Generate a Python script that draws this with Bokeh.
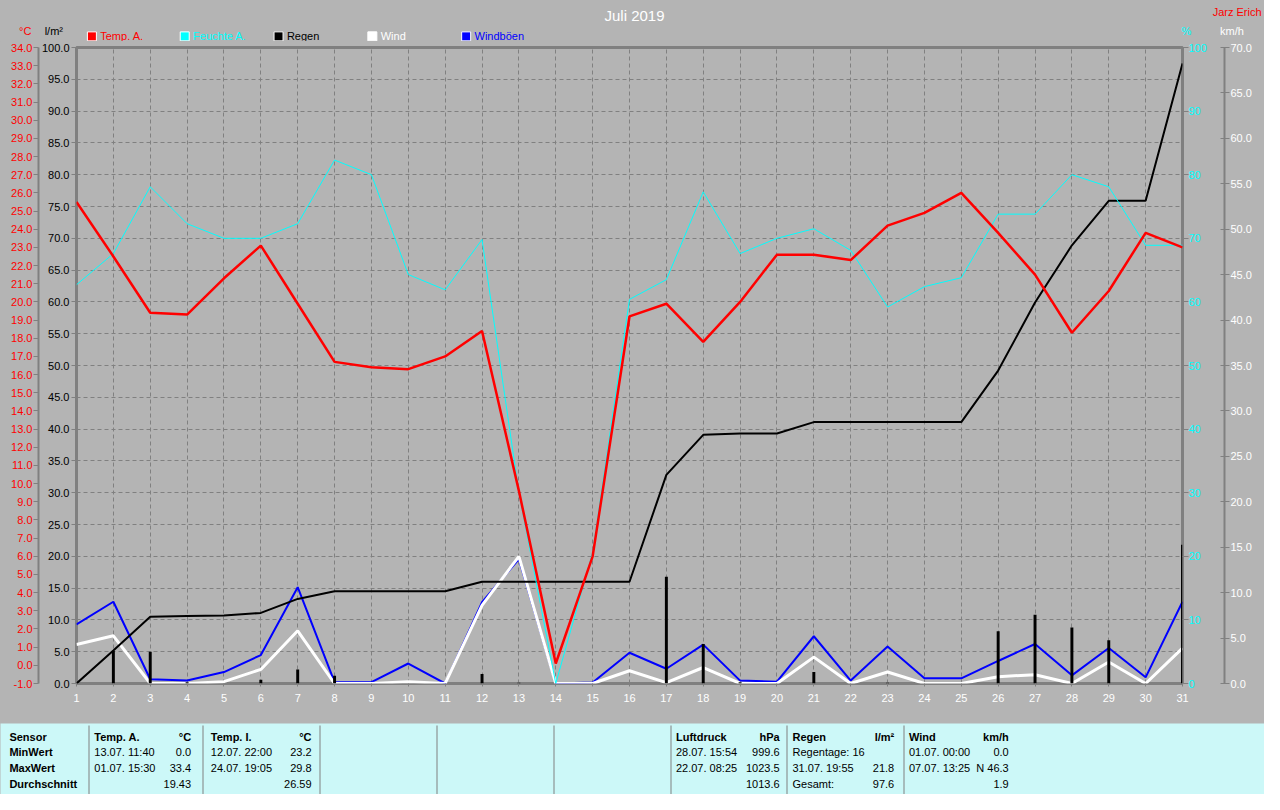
from bokeh.plotting import figure
from bokeh.layouts import column
from bokeh.models import (Range1d, LinearAxis, FixedTicker, NumeralTickFormatter,
                          Label, BoxAnnotation, Grid)
from bokeh.embed import file_html
from bokeh.resources import INLINE

# ---------------- data ----------------
days = list(range(1, 32))
temp_a = [25.5, 22.5, 19.4, 19.3, 21.3, 23.1, 19.9, 16.7, 16.4, 16.3, 17.0, 18.4, 9.6, 0.1,
          6.0, 19.2, 19.9, 17.8, 20.0, 22.6, 22.6, 22.3, 24.2, 24.9, 26.0, 23.8, 21.5, 18.3,
          20.6, 23.8, 23.0]
feuchte_a = [62.7, 67.6, 78.1, 72.3, 70.0, 70.0, 72.3, 82.3, 80.0, 64.3, 61.9, 69.8, 30.0, 0.0,
             20.6, 60.4, 63.5, 77.3, 67.6, 70.0, 71.5, 68.1, 59.2, 62.4, 63.8, 73.8, 73.8, 80.0,
             78.1, 68.9, 68.9]
regen_tag = [0.0, 5.1, 5.0, 0.2, 0.0, 0.6, 2.2, 1.2, 0.0, 0.0, 0.0, 1.5, 0.1, 0.0, 0.0, 0.0,
             16.8, 6.2, 0.2, 0.0, 1.8, 0.0, 0.1, 0.0, 0.0, 8.2, 10.8, 8.8, 6.8, 0.0, 21.8]
regen_summe = [0.0, 5.2, 10.5, 10.6, 10.7, 11.1, 13.3, 14.5, 14.5, 14.5, 14.5, 16.0, 16.0, 16.0,
               16.0, 16.0, 32.8, 39.1, 39.3, 39.3, 41.1, 41.1, 41.1, 41.1, 41.1, 49.2, 59.9,
               68.9, 75.9, 75.9, 97.5]
wind = [4.3, 5.25, 0.0, 0.0, 0.2, 1.55, 5.8, 0.0, 0.0, 0.2, 0.0, 8.6, 14.0, 0.0, 0.0, 1.4, 0.1,
        1.76, 0.0, 0.0, 2.9, 0.0, 1.26, 0.0, 0.0, 0.75, 0.97, 0.0, 2.37, 0.0, 3.9]
windboeen = [6.5, 9.0, 0.47, 0.32, 1.26, 3.13, 10.6, 0.15, 0.15, 2.2, 0.0, 8.95, 13.7, 0.0, 0.1,
             3.38, 1.62, 4.28, 0.32, 0.2, 5.2, 0.32, 4.07, 0.57, 0.57, 2.48, 4.35, 0.9, 3.9,
             0.68, 9.0]

temp_ticks = [float(v) for v in range(-1, 35)]
regen_ticks = [float(v) for v in range(0, 101, 5)]
feuchte_ticks = list(range(0, 101, 10))
wind_ticks = [float(v) for v in range(0, 71, 5)]
grid_y = [float(v) for v in range(5, 100, 5)]

title_text = "Juli 2019"
author_text = "Jarz Erich"
legend_names = ["Temp. A.", "Feuchte A.", "Regen", "Wind", "Windböen"]
legend_colors = ["#FF0000", "#00FFFF", "#000000", "#FFFFFF", "#0000FF"]

sensor_col = ["Sensor", "MinWert", "MaxWert", "Durchschnitt"]
tempa_left = ["Temp. A.", "13.07.  11:40", "01.07.  15:30", ""]
tempa_right = ["°C", "0.0", "33.4", "19.43"]
tempi_left = ["Temp. I.", "12.07.  22:00", "24.07.  19:05", ""]
tempi_right = ["°C", "23.2", "29.8", "26.59"]
luft_left = ["Luftdruck", "28.07.  15:54", "22.07.  08:25", ""]
luft_right = ["hPa", "999.6", "1023.5", "1013.6"]
regen_left = ["Regen", "Regentage: 16", "31.07.  19:55", "Gesamt:"]
regen_right = ["l/m²", "", "21.8", "97.6"]
wind_left = ["Wind", "01.07.  00:00", "07.07.  13:25", ""]
wind_right = ["km/h", "0.0", "N 46.3", "1.9"]

# ---------------- styling / layout ----------------
BG = "#B4B4B4"
GRAY = "#808080"
PANEL = "#CCF8F8"
FONT = "Liberation Sans"
W = 1264
SX, SY = 1264 / 1280.0, 794 / 810.0
H_TOP, H_MAIN, H_BOT = 41, 682, 71


def X(px):
    return px * SX


def Y(py):
    return py * SY


def blank_fig(h, bg):
    f = figure(width=W, height=h, output_backend="svg", toolbar_location=None,
               x_range=Range1d(0, W), y_range=Range1d(h, 0),
               x_axis_location=None, y_axis_location=None, min_border=0,
               frame_align=False,
               background_fill_color=bg, border_fill_color=bg, outline_line_color=None)
    f.grid.visible = False
    return f


def lab(f, y0, text, px, py, color="black", size="11px", align="left", bold=False):
    f.add_layout(Label(x=X(px), y=Y(py) - y0, text=text, text_color=color, text_font=FONT,
                       text_font_size=size, text_align=align, text_baseline="middle",
                       text_font_style="bold" if bold else "normal"))


# ---------------- header ----------------
top = blank_fig(H_TOP, BG)
lab(top, 0, title_text, 642, 15, "white", "15px", "center")
lab(top, 0, author_text, 1277, 12, "#FF0000", "11px", "right")
lab(top, 0, "°C", 25, 31, "#FF0000", "11px", "center")
lab(top, 0, "l/m²", 54, 31, "black", "11px", "center")
lab(top, 0, "%", 1201, 31, "#00FFFF", "11px", "center")
lab(top, 0, "km/h", 1247, 31, "white", "11px", "center")
leg_x = [88, 182, 277, 372, 467]
for name, col, lx in zip(legend_names, legend_colors, leg_x):
    top.add_layout(BoxAnnotation(left=X(lx), right=X(lx) + 9, top=Y(32), bottom=Y(32) + 9,
                                 fill_color=col, fill_alpha=1, line_color="white",
                                 line_alpha=1, line_width=1))
    lab(top, 0, name, lx + 13, 36.5, col, "11px", "left")

# ---------------- main chart ----------------
ML = round(X(77))
MR = W - round(X(1197))
MT = round(Y(48)) - H_TOP
MB = H_TOP + H_MAIN - round(Y(697))

p = figure(width=W, height=H_MAIN, output_backend="svg", toolbar_location=None,
           x_range=Range1d(1, 31), y_range=Range1d(0, 100),
           x_axis_location=None, y_axis_location=None, frame_align=False,
           min_border_left=ML, min_border_right=MR, min_border_top=MT, min_border_bottom=MB,
           background_fill_color=BG, border_fill_color=BG,
           outline_line_color=GRAY, outline_line_width=3)
p.grid.visible = False
p.extra_y_ranges = {"temp": Range1d(-1, 34), "hum": Range1d(0, 100), "wind": Range1d(0, 70)}

p.add_layout(Grid(dimension=0, ticker=FixedTicker(ticks=days[1:-1]), grid_line_color=GRAY,
                  grid_line_dash="4 3", grid_line_width=1))
p.add_layout(Grid(dimension=1, ticker=FixedTicker(ticks=grid_y), grid_line_color=GRAY,
                  grid_line_dash="4 3", grid_line_width=1))


def make_axis(rng, ticks, fmt, color, tick_out, tick_in, standoff, line_color=None, line_width=2):
    return LinearAxis(y_range_name=rng, ticker=FixedTicker(ticks=ticks),
                      formatter=NumeralTickFormatter(format=fmt),
                      axis_line_color=line_color, axis_line_width=line_width,
                      major_tick_out=tick_out, major_tick_in=tick_in,
                      minor_tick_out=0, minor_tick_in=0,
                      major_tick_line_color=GRAY, major_tick_line_width=1,
                      major_label_standoff=standoff,
                      major_label_text_font=FONT, major_label_text_font_size="11px",
                      major_label_text_color=color)


rain_ax = make_axis("default", regen_ticks, "0.0", "black", 5, 0, 2)
p.add_layout(rain_ax, "left")
temp_ax = make_axis("temp", temp_ticks, "0.0", "#FF0000", 5, 0, 1, line_color=GRAY)
p.add_layout(temp_ax, "left")

hum_ax = make_axis("hum", feuchte_ticks, "0", "#00FFFF", 6, 0, 0)
hum_ax.axis_label = " "
hum_ax.axis_label_text_font_size = "10px"
hum_ax.axis_label_standoff = 1
p.add_layout(hum_ax, "right")
wind_ax = make_axis("wind", wind_ticks, "0.0", "white", 5, 4, 1, line_color=GRAY)
p.add_layout(wind_ax, "right")

x_ax = LinearAxis(ticker=FixedTicker(ticks=days), axis_line_color=None,
                  major_tick_out=3, major_tick_in=0, minor_tick_out=0, minor_tick_in=0,
                  major_tick_line_color=GRAY, major_label_standoff=7,
                  major_label_text_font=FONT, major_label_text_font_size="11px",
                  major_label_text_color="white")
p.add_layout(x_ax, "below")

p.line(days, windboeen, y_range_name="wind", line_color="#0000FF", line_width=2)
p.line(days, wind, y_range_name="wind", line_color="#FFFFFF", line_width=3)
p.vbar(x=days, top=regen_tag, bottom=0, width=0.08, fill_color="black", line_color=None)
p.line(days, regen_summe, line_color="black", line_width=2)
p.line(days, feuchte_a, y_range_name="hum", line_color="#00FFFF", line_width=1)
p.line(days, temp_a, y_range_name="temp", line_color="#FF0000", line_width=2.5)

# ---------------- statistics panel ----------------
bot = blank_fig(H_BOT, PANEL)
y0 = H_TOP + H_MAIN
for sx in [89, 205, 323, 442, 560, 678, 796, 914]:
    bot.add_layout(BoxAnnotation(left=round(X(sx)), right=round(X(sx)) + 1, top=2,
                                 bottom=H_BOT, fill_color=GRAY, fill_alpha=1, line_color=None))

rows_y = [751, 767, 783, 799]
for i, yy in enumerate(rows_y):
    lab(bot, y0, sensor_col[i], 9, yy, bold=True)
    for lt, rt, lx, rx in [(tempa_left, tempa_right, 95, 193), (tempi_left, tempi_right, 213, 315),
                           (luft_left, luft_right, 684, 789), (regen_left, regen_right, 802, 905),
                           (wind_left, wind_right, 920, 1021)]:
        if lt[i]:
            lab(bot, y0, lt[i], lx, yy, bold=(i == 0))
        if rt[i]:
            lab(bot, y0, rt[i], rx, yy, align="right", bold=(i == 0))

layout = column(top, p, bot, spacing=0, styles={"background-color": BG})
open("out.html", "w").write(file_html(layout, INLINE))
